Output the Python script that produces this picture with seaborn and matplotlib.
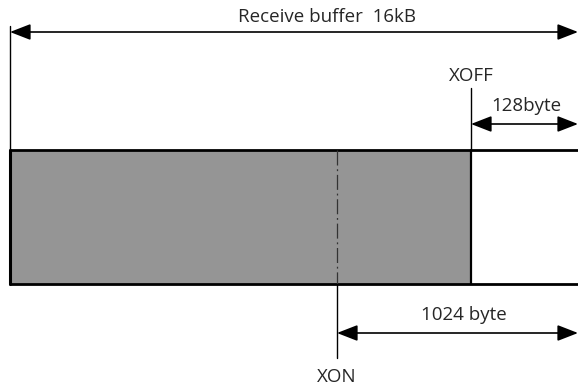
import seaborn as sns
import matplotlib.pyplot as plt

sns.set_theme(style="white")
plt.rcParams['font.family'] = ['Open Sans', 'DejaVu Sans']

# layout of the buffer diagram (horizontal diagram units, 0 = buffer start)
buffer_span = [10, 578]      # whole receive buffer
filled_span = [10, 471]      # data held in the buffer (grey)
xoff_pos = 471               # XOFF threshold
xon_pos = 337                # XON threshold
box_rows = [150, 284]        # top / bottom of the buffer box

labels = {
    "total": "Receive buffer  16kB",
    "xoff": "XOFF",
    "xoff_gap": "128byte",
    "xon": "XON",
    "xon_gap": "1024 byte",
}

FS = 13.5

fig = plt.figure(figsize=(5.78, 3.86), dpi=100)
ax = fig.add_axes([0, 0, 1, 1])
ax.set_xlim(0, 578)
ax.set_ylim(386, 0)
ax.axis("off")

# grey filled part of the buffer
ax.fill_between(filled_span, box_rows[0], box_rows[1], color="#959595", lw=0)

# box outline (open on the right)
ax.plot(buffer_span, [box_rows[0]] * 2, color="black", lw=2)
ax.plot(buffer_span, [box_rows[1]] * 2, color="black", lw=2)
ax.plot([buffer_span[0]] * 2, box_rows, color="black", lw=2.2)
ax.plot([xoff_pos] * 2, box_rows, color="black", lw=1.6)

# buffer start marker
ax.plot([buffer_span[0]] * 2, [26, box_rows[0]], color="black", lw=1)

# XOFF marker
ax.plot([xoff_pos] * 2, [88, box_rows[0]], color="black", lw=1)
ax.text(xoff_pos, 76, labels["xoff"], ha="center", va="center", fontsize=FS)

# XON marker: dash-dot inside the box, solid below
ax.plot([xon_pos] * 2, box_rows, color="#333333", lw=0.9, ls=(0, (12, 3, 1.5, 3)))
ax.plot([xon_pos] * 2, [box_rows[1], 358], color="black", lw=1)
ax.text(xon_pos, 377, labels["xon"], ha="center", va="center", fontsize=FS)

arrow = dict(arrowstyle="<|-|>,head_length=0.9,head_width=0.35", color="black",
             lw=1.2, mutation_scale=14, shrinkA=0, shrinkB=0)

# whole buffer dimension
ax.annotate("", xy=(buffer_span[0], 32), xytext=(buffer_span[1], 32), arrowprops=arrow)
ax.text(327, 17, labels["total"], ha="center", va="center", fontsize=FS)

# XOFF gap dimension
ax.annotate("", xy=(xoff_pos, 124), xytext=(buffer_span[1], 124), arrowprops=arrow)
ax.text(526, 106, labels["xoff_gap"], ha="center", va="center", fontsize=FS)

# XON gap dimension
ax.annotate("", xy=(xon_pos, 333), xytext=(buffer_span[1], 333), arrowprops=arrow)
ax.text(464, 315, labels["xon_gap"], ha="center", va="center", fontsize=FS)

fig.savefig("out.png", dpi=100)
plt.close(fig)
